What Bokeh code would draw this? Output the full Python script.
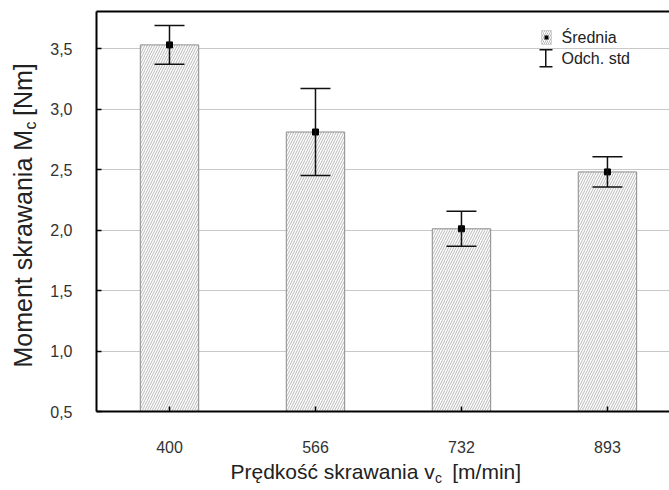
import numpy as np
from bokeh.plotting import figure
from bokeh.models import (ColumnDataSource, Range1d, FixedTicker, CustomJSTickFormatter,
                          Whisker, TeeHead, Label, BoxAnnotation, LinearAxis)
from bokeh.embed import file_html
from bokeh.resources import INLINE

categories = ["400", "566", "732", "893"]
means = [3.53, 2.81, 2.01, 2.48]
stds = [0.16, 0.36, 0.145, 0.125]
y_ticks = [0.5, 1.0, 1.5, 2.0, 2.5, 3.0, 3.5]

xpos = np.arange(len(categories)) + 0.5
m = np.array(means)
s = np.array(stds)
src = ColumnDataSource(dict(x=xpos, mean=m, upper=m + s, lower=m - s))

FONT = "Liberation Sans"
NB = "\u00a0"

p = figure(width=669, height=490, output_backend="svg", toolbar_location=None,
           x_range=Range1d(0, 3.925), y_range=Range1d(0.5, 3.806),
           min_border_left=96, min_border_right=0, min_border_top=11, min_border_bottom=79)
p.outline_line_color = None
p.background_fill_color = "white"
p.border_fill_color = "white"

p.xgrid.grid_line_color = None
p.ygrid.grid_line_color = "#c8c8c8"
p.ygrid.grid_line_width = 1

p.vbar(x="x", top="mean", bottom=0, width=0.4, source=src,
       fill_color="white", line_color="#8a8a8a", line_width=1,
       hatch_pattern="/", hatch_color="#9a9a9a", hatch_scale=5, hatch_weight=0.7)

p.add_layout(Whisker(base="x", upper="upper", lower="lower", source=src, level="annotation",
                     line_color="#111111", line_width=1.5,
                     upper_head=TeeHead(size=30, line_width=1.5, line_color="#111111"),
                     lower_head=TeeHead(size=30, line_width=1.5, line_color="#111111")))
p.scatter(x="x", y="mean", source=src, marker="square", size=6, color="#000000")

# axes
for ax in (p.xaxis[0], p.yaxis[0]):
    ax.axis_line_color = "black"
    ax.axis_line_width = 2
    ax.major_tick_in = 5
    ax.major_tick_out = 0
    ax.minor_tick_line_color = None
    ax.major_tick_line_color = "black"
    ax.major_tick_line_width = 1.5
    ax.major_label_text_font = FONT
    ax.major_label_text_font_size = "16px"
    ax.major_label_text_color = "#333333"
p.yaxis.major_label_standoff = 24
p.xaxis.major_label_standoff = 29

p.xaxis.ticker = FixedTicker(ticks=list(xpos))
p.xaxis.major_label_overrides = {float(x): c for x, c in zip(xpos, categories)}
p.yaxis.ticker = FixedTicker(ticks=y_ticks)
p.yaxis.formatter = CustomJSTickFormatter(code="return tick.toFixed(1).replace('.', ',');")

top_ax = LinearAxis(axis_line_color="black", axis_line_width=2, major_tick_line_color=None,
                    minor_tick_line_color=None, major_label_text_font_size="0px",
                    major_label_text_color=None)
top_ax.ticker = FixedTicker(ticks=[])
p.add_layout(top_ax, "above")

LBL = "#222222"
# axis titles: main text in its own side panel; each subscript goes into the other
# panel, where its thin side is the one that counts
p.add_layout(Label(x=230, y=471, x_units="canvas", y_units="canvas",
                   text="Prędkość skrawania v" + NB * 3 + "[m/min]",
                   text_font=FONT, text_font_size="21px", text_color=LBL,
                   text_align="left", text_baseline="alphabetic"), "below")
p.add_layout(Label(x=434.5, y=477.5, x_units="canvas", y_units="canvas", text="c",
                   text_font=FONT, text_font_size="14px", text_color=LBL,
                   text_align="left", text_baseline="alphabetic"), "left")

p.add_layout(Label(x=22, y=367, x_units="canvas", y_units="canvas",
                   text="Moment skrawania M" + NB * 2 + "[Nm]",
                   angle=np.pi / 2, text_font=FONT, text_font_size="25px", text_color=LBL,
                   text_align="left", text_baseline="alphabetic"), "left")
p.add_layout(Label(x=29.5, y=129, x_units="canvas", y_units="canvas", text="c",
                   angle=np.pi / 2, text_font=FONT, text_font_size="16px", text_color=LBL,
                   text_align="left", text_baseline="alphabetic"), "below")

# legend
cu = dict(left_units="canvas", right_units="canvas", top_units="canvas", bottom_units="canvas")
p.add_layout(BoxAnnotation(left=541, right=551, top=30, bottom=44, fill_color="white", fill_alpha=1,
                           line_color="#8a8a8a", line_width=1, hatch_pattern="/", hatch_color="#9a9a9a",
                           hatch_scale=4, hatch_weight=0.7, **cu))
p.add_layout(BoxAnnotation(left=544, right=548, top=35, bottom=39, fill_color="black", fill_alpha=1,
                           line_color=None, **cu))
p.add_layout(BoxAnnotation(left=544.5, right=546, top=49, bottom=66.5, fill_color="#111111", fill_alpha=1,
                           line_color=None, **cu))
p.add_layout(BoxAnnotation(left=539, right=552, top=48.5, bottom=50, fill_color="#111111", fill_alpha=1,
                           line_color=None, **cu))
p.add_layout(BoxAnnotation(left=539, right=552, top=65.5, bottom=67, fill_color="#111111", fill_alpha=1,
                           line_color=None, **cu))
p.add_layout(Label(x=561, y=37, x_units="canvas", y_units="canvas", text="Średnia",
                   text_font=FONT, text_font_size="16px", text_color=LBL,
                   text_align="left", text_baseline="alphabetic"))
p.add_layout(Label(x=561, y=58, x_units="canvas", y_units="canvas", text="Odch. std",
                   text_font=FONT, text_font_size="16px", text_color=LBL,
                   text_align="left", text_baseline="alphabetic"))

open("out.html", "w").write(file_html(p, INLINE))
